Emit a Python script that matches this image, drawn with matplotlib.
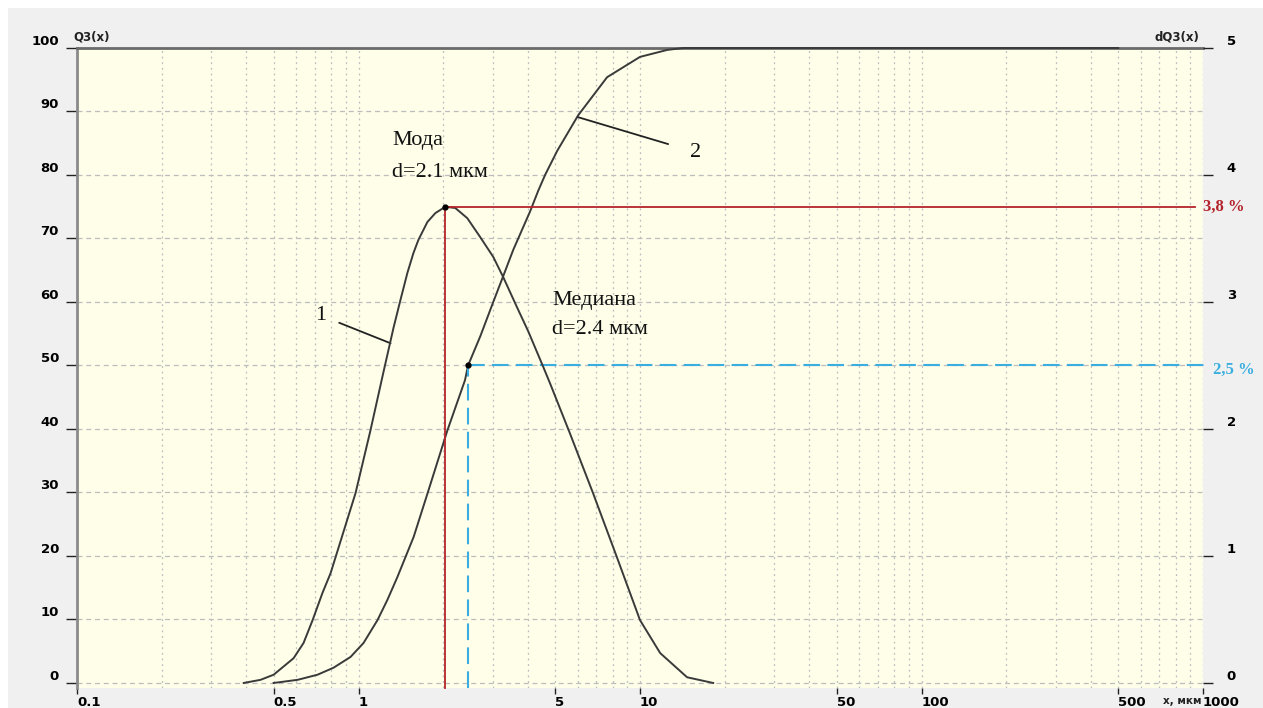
import numpy as np
import matplotlib
matplotlib.use("Agg")
import matplotlib.pyplot as plt
from matplotlib.patches import Rectangle
from matplotlib.ticker import LogLocator, NullFormatter

# particle size, um  /  differential distribution dQ3(x), %
d_diff = [0.391, 0.449, 0.4995, 0.588, 0.638, 0.687, 0.745, 0.796,
          0.976, 1.103, 1.227, 1.331, 1.409, 1.492, 1.567, 1.633, 1.757,
          1.875, 2.035, 2.208, 2.435, 2.708, 3.011, 3.268, 3.663, 4.007,
          4.53, 4.80, 5.65, 6.81, 8.28, 10.0, 11.8, 14.7, 18.2]
dq3 = [0, 0.025, 0.065, 0.195, 0.315, 0.495, 0.71, 0.865,
       1.495, 1.99, 2.45, 2.795, 3.015, 3.23, 3.385, 3.49, 3.63,
       3.70, 3.75, 3.74, 3.66, 3.51, 3.355, 3.195, 2.955, 2.77,
       2.49, 2.355, 1.96, 1.495, 0.99, 0.495, 0.235, 0.045, 0]

# cumulative distribution Q3(x), %
d_cum = [0.4995, 0.608, 0.715, 0.815, 0.937, 1.042, 1.168, 1.267, 1.375,
         1.57, 1.76, 2.07, 2.39, 2.45, 2.708, 3.011, 3.268, 3.545, 4.073,
         4.348, 4.6, 5.08, 6.03, 7.64, 10.0, 12.5, 14.2, 500]
q3 = [0, 0.5, 1.3, 2.4, 4.1, 6.3, 9.9, 13.1, 16.7,
      23, 29.9, 39.8, 47.7, 50, 54.6, 60.0, 64.1, 68.2, 74.3,
      77.5, 80.0, 83.8, 89.4, 95.4, 98.6, 99.7, 100, 100]

mode_x, mode_y = 2.035, 3.75
median_x, median_y = 2.45, 50

x_ticks = [0.1, 0.5, 1, 5, 10, 50, 100, 500, 1000]
x_labels = ["0.1", "0.5", "1", "5", "10", "50", "100", "500", "1000"]
left_ticks = list(range(0, 101, 10))
right_ticks = [0, 1, 2, 3, 4, 5]

W, H = 1263, 708
SERIF = "Liberation Serif"
LINE = "#3a3a3a"
RED = "#b4232a"
CYAN = "#3aaee0"


def fx(px):
    return px / W


def fy(py):
    return 1 - py / H


fig = plt.figure(figsize=(W / 100, H / 100), dpi=100, facecolor="white")
fig.patches.append(Rectangle((fx(8), 0), 1, fy(8), transform=fig.transFigure,
                             facecolor="#f0f0f0", edgecolor="none", zorder=-10))

ax = fig.add_axes([fx(77), fy(688), (1203 - 77) / W, (688 - 48) / H])
ax.set_facecolor("#fefee9")
ax.set_xscale("log")
ax.set_xlim(0.1, 1000)
ymin = -0.79
ax.set_ylim(ymin, 100)

ax2 = ax.twinx()
ax2.set_ylim(ymin / 20, 5)

for a in (ax, ax2):
    for s in a.spines.values():
        s.set_visible(False)
ax.spines["left"].set_visible(True)
ax.spines["top"].set_visible(True)
ax.spines["left"].set_color("#8a8a8a")
ax.spines["top"].set_color("#6a6a6a")
ax.spines["left"].set_linewidth(2)
ax.spines["top"].set_linewidth(2)

# grid
ax.xaxis.set_minor_locator(LogLocator(base=10, subs=np.arange(2, 10), numticks=50))
ax.xaxis.set_minor_formatter(NullFormatter())
ax.grid(which="both", axis="x", ls=(0, (1.5, 3)), color="#bdbdbd", lw=0.9)
ax.grid(which="major", axis="y", ls=(0, (4, 3)), color="#bdbdbd", lw=0.9)
ax.set_axisbelow(True)

# ticks
tick_font = dict(fontsize=9.5, fontweight="bold", family="DejaVu Sans")
ax.set_xticks(x_ticks)
ax.set_xticklabels(x_labels, ha="left", **tick_font)
ax.tick_params(axis="x", which="major", length=4, width=1, pad=2, color="#222222")
ax.tick_params(axis="x", which="minor", length=0)
ax.set_yticks(left_ticks)
ax.set_yticklabels([str(v) for v in left_ticks], va="bottom", **tick_font)
ax.tick_params(axis="y", length=8, width=1, pad=5, color="#222222")
ax2.set_yticks(right_ticks)
ax2.set_yticklabels([str(v) for v in right_ticks], va="bottom", **tick_font)
ax2.tick_params(axis="y", length=7, width=1, pad=10, color="#222222")

# curves
ax.plot(d_cum, q3, color=LINE, lw=1.4, clip_on=False, zorder=3,
        solid_joinstyle="round")
ax2.plot(d_diff, dq3, color=LINE, lw=1.4, clip_on=False, zorder=3,
         solid_joinstyle="round")

# mode lines (red)
fr_mode = (np.log10(mode_x) + 1) / 4
ax2.axhline(mode_y, xmin=fr_mode, xmax=0.993, color=RED, lw=1.3, zorder=4)
ax2.plot([mode_x, mode_x], [ymin / 20, mode_y], color=RED, lw=1.3, zorder=4,
         clip_on=False)
ax2.plot([mode_x], [mode_y], "o", color="black", ms=3.5, zorder=5)

# median lines (cyan dashed)
ax.plot([median_x, median_x], [ymin, median_y], color=CYAN, lw=1.5,
        dashes=(8, 3.5), zorder=4, clip_on=False)
ax.plot([median_x, 1050], [median_y, median_y], color=CYAN, lw=1.5,
        dashes=(8, 3.5), zorder=4, clip_on=False)
ax.plot([median_x], [median_y], "o", color="black", ms=3.5, zorder=5)

# annotations
txt = dict(family=SERIF, fontsize=16, color="#111111")
ax.text(1.32, 86.9, "Мода", va="top", ha="left", **txt)
ax.text(1.32, 81.9, "d=2.1 мкм", va="top", ha="left", **txt)
ax.text(4.87, 61.8, "Медиана", va="top", ha="left", **txt)
ax.text(4.87, 57.1, "d=2.4 мкм", va="top", ha="left", **txt)

ax.annotate("1", xy=(1.30, 53.5), xytext=(0.733, 57.9), ha="center", va="center",
            arrowprops=dict(arrowstyle="-", color="#222222", lw=1.3,
                            shrinkA=8, shrinkB=0), **txt)
ax.annotate("2", xy=(6.03, 89.1), xytext=(15.7, 83.6), ha="center", va="center",
            arrowprops=dict(arrowstyle="-", color="#222222", lw=1.3,
                            shrinkA=14, shrinkB=0), **txt)

# side labels
fig.text(fx(1203), fy(207), "3,8 %", color=RED, family=SERIF, fontsize=12,
         fontweight="bold", va="center", ha="left")
fig.text(fx(1213), fy(370), "2,5 %", color=CYAN, family=SERIF, fontsize=12,
         fontweight="bold", va="center", ha="left")
lab = dict(fontsize=8.5, fontweight="bold", family="DejaVu Sans", color="#222222")
fig.text(fx(73), fy(43), "Q3(x)", va="bottom", ha="left", **lab)
fig.text(fx(1199), fy(43), "dQ3(x)", va="bottom", ha="right", **lab)
fig.text(fx(1163), fy(696), "x, мкм", va="top", ha="left", fontsize=7.5,
         fontweight="bold", family="DejaVu Sans", color="#222222")

fig.savefig("out.png", dpi=100, facecolor=fig.get_facecolor())
